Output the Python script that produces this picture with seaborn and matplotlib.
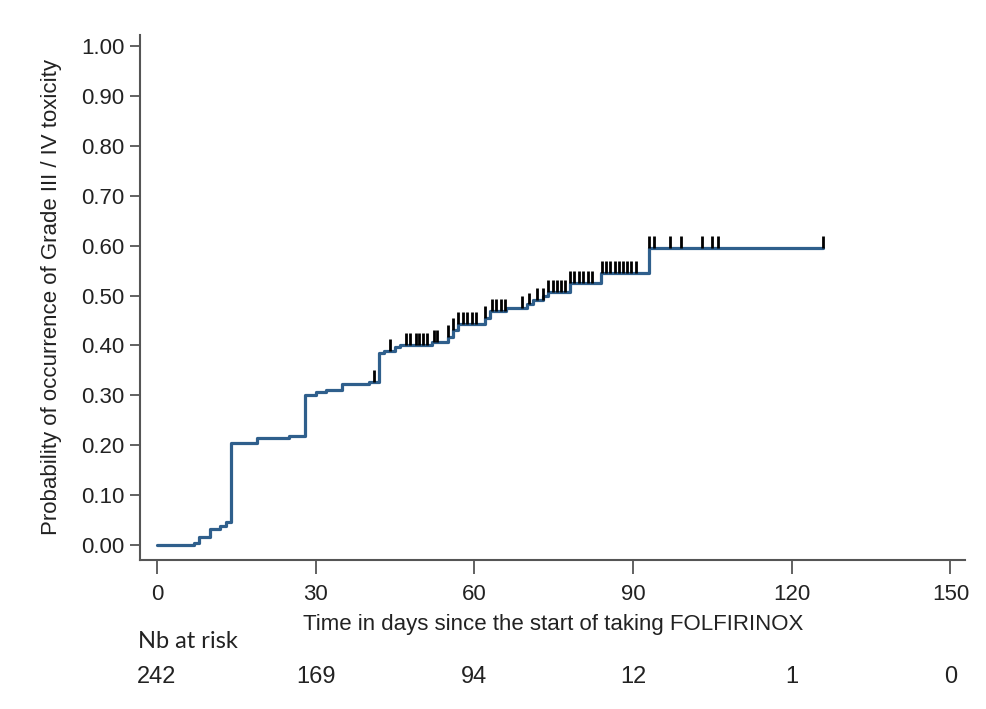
import numpy as np
import pandas as pd
import matplotlib
matplotlib.use("Agg")
import matplotlib.pyplot as plt
import matplotlib.transforms as mtransforms
import seaborn as sns

# ---- data ----
event_days = [0, 7, 8, 10, 12, 13, 14, 19, 25, 28, 30, 32, 35, 40, 42, 43, 45, 46,
              52, 55, 56, 57, 62, 63, 66, 70, 71, 73, 74, 78, 84, 93]
cum_prob = [0.000, 0.005, 0.016, 0.033, 0.039, 0.047, 0.205, 0.214, 0.219, 0.300,
            0.306, 0.310, 0.322, 0.327, 0.384, 0.389, 0.396, 0.401, 0.407, 0.417,
            0.430, 0.443, 0.454, 0.469, 0.474, 0.482, 0.491, 0.500, 0.508, 0.526,
            0.545, 0.595]
last_day = 126
censor_days = [41, 44, 47, 47.8, 49, 49.6, 50.3, 51, 52.3, 53, 55, 56, 57, 57.8, 58.7,
               59.5, 60.3, 62, 63.3, 64.1, 65, 65.8, 69, 70.3, 71.9, 72.9, 74.0, 74.8,
               75.6, 76.4, 77.2, 78.1, 78.9, 79.7, 80.5, 81.4, 82.2, 84.1, 84.9, 85.7,
               86.5, 87.3, 88.1, 88.9, 89.7, 90.5, 93.1, 94, 97, 99, 103, 105, 106, 126]
risk_days = [0, 30, 60, 90, 120, 150]
risk_counts = [242, 169, 94, 12, 1, 0]
x_ticks = [0, 30, 60, 90, 120, 150]
y_ticks = [0.0, 0.1, 0.2, 0.3, 0.4, 0.5, 0.6, 0.7, 0.8, 0.9, 1.0]

sns.set_theme(style="white")
plt.rcParams["font.family"] = ["Liberation Sans", "DejaVu Sans"]

fig = plt.figure(figsize=(9.87, 7.09), dpi=100)
ax = fig.add_axes([0.1418, 0.2102, 0.978 - 0.1418, 0.9506 - 0.2102])

df = pd.DataFrame({"day": event_days + [last_day],
                   "prob": cum_prob + [cum_prob[-1]]})
sns.lineplot(data=df, x="day", y="prob", estimator=None, drawstyle="steps-post",
             color="#2f5f8c", linewidth=2.3, ax=ax)

# censor marks: short vertical ticks sitting on the curve
ev = np.array(event_days)
cp = np.array(cum_prob)
cd = np.array(censor_days)
cy = cp[np.searchsorted(ev, cd, side="right") - 1]
ax.vlines(cd, cy, cy + 0.024, color="black", linewidth=2.0, zorder=3)

ax.set_xlim(-3.2, 152.8)
ax.set_ylim(-0.030, 1.022)
ax.set_xticks(x_ticks)
ax.set_xticklabels([str(t) for t in x_ticks])
ax.set_yticks(y_ticks)
ax.set_yticklabels([f"{t:.2f}" for t in y_ticks])

for s in ["top", "right"]:
    ax.spines[s].set_visible(False)
for s in ["left", "bottom"]:
    ax.spines[s].set_color("#555555")
    ax.spines[s].set_linewidth(1.5)

ax.tick_params(axis="y", which="major", direction="out", length=7, width=1.3,
               color="#555555", labelsize=16, labelcolor="#222222", pad=4, left=True)
ax.tick_params(axis="x", which="major", direction="out", length=10, width=1.3,
               color="#555555", labelsize=16, labelcolor="#222222", pad=7, bottom=True)

ax.set_xlabel("")
ax.set_ylabel("Probability of occurrence of Grade III / IV toxicity", fontsize=16,
              color="#222222", labelpad=14)

trans = mtransforms.blended_transform_factory(ax.transData, fig.transFigure)
fig.text(0.5 * (x_ticks[0] + x_ticks[-1]), 0.1185,
         "Time in days since the start of taking FOLFIRINOX", transform=trans,
         ha="center", va="center", fontsize=16, color="#222222")
fig.text(138 / 987, 0.0945, "Nb at risk", ha="left", va="center", fontsize=17,
         family=["Lato", "DejaVu Sans"], color="#222222")
for d, n in zip(risk_days, risk_counts):
    fig.text(d, 0.045, str(n), transform=trans, ha="center", va="center",
             fontsize=17, color="#222222")

fig.savefig("out.png", dpi=100, facecolor="white")
